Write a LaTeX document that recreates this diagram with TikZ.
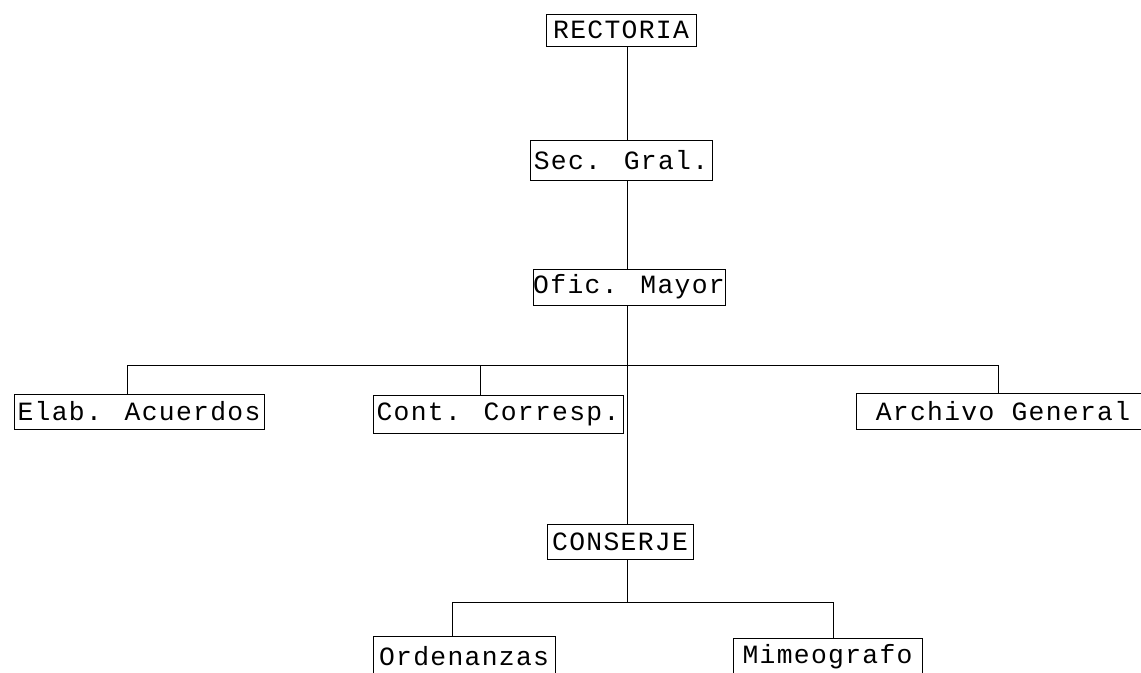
\documentclass[tikz,border=0pt]{standalone}
\usepackage{fontspec}
\newfontfamily\typ[LetterSpace=5]{Liberation Mono}
\usetikzlibrary{positioning}

\begin{document}
\begin{tikzpicture}[x=0.02cm, y=-0.02cm, line width=0.5pt,
                    box/.style = {draw, inner sep=0pt, font=\typ\fontsize{15}{15}\selectfont},
                    link/.style = {draw}]
  \useasboundingbox (0,0) rectangle (1141,672);
  \clip (0,0) rectangle (1141,672);
  \coordinate (spine) at (627,0);
  \coordinate (busL) at (127,365);
  \coordinate (busC) at (480,365);
  \coordinate (busR) at (998,365);
  \coordinate (subL) at (452,602);
  \coordinate (subC) at (627,602);
  \coordinate (subR) at (833,602);

  \node [box, minimum width=3cm, minimum height=0.64cm] (rect) at (621,30) {RECTORIA};
  \node [box, minimum width=3.64cm, minimum height=0.8cm] (sec) at (621,160) {Sec. Gral.};
  \node [box, minimum width=3.84cm, minimum height=0.72cm] (ofic) at (629,287) {Ofic. Mayor};
  \node [box, minimum width=5cm, minimum height=0.7cm] (elab) at (139,411.5) {Elab. Acuerdos};
  \node [box, minimum width=5cm, minimum height=0.76cm] (cont) at (498,414) {Cont. Corresp.};
  \node [box, minimum width=5.88cm, minimum height=0.72cm] (arch) at (1003,411) {Archivo General};
  \node [box, minimum width=2.92cm, minimum height=0.7cm] (cons) at (620,541.5) {CONSERJE};
  \node [box, minimum width=3.64cm, minimum height=0.8cm] (orden) at (464,656) {Ordenanzas};
  \node [box, minimum width=3.78cm, minimum height=0.76cm] (mimeo) at (827.5,657) {Mimeografo};

  \draw [link] (rect.south -| spine) -- (sec.north -| spine);
  \draw [link] (sec.south -| spine) -- (ofic.north -| spine);
  \draw [link] (ofic.south -| spine) -- (cons.north -| spine);
  \draw [link] (elab.north -| busL) -- (busL) -- (busR) -- (arch.north -| busR);
  \draw [link] (busC) -- (cont.north -| busC);
  \draw [link] (cons.south -| spine) -- (subC);
  \draw [link] (orden.north -| subL) -- (subL) -- (subR) -- (mimeo.north -| subR);
\end{tikzpicture}
\end{document}
